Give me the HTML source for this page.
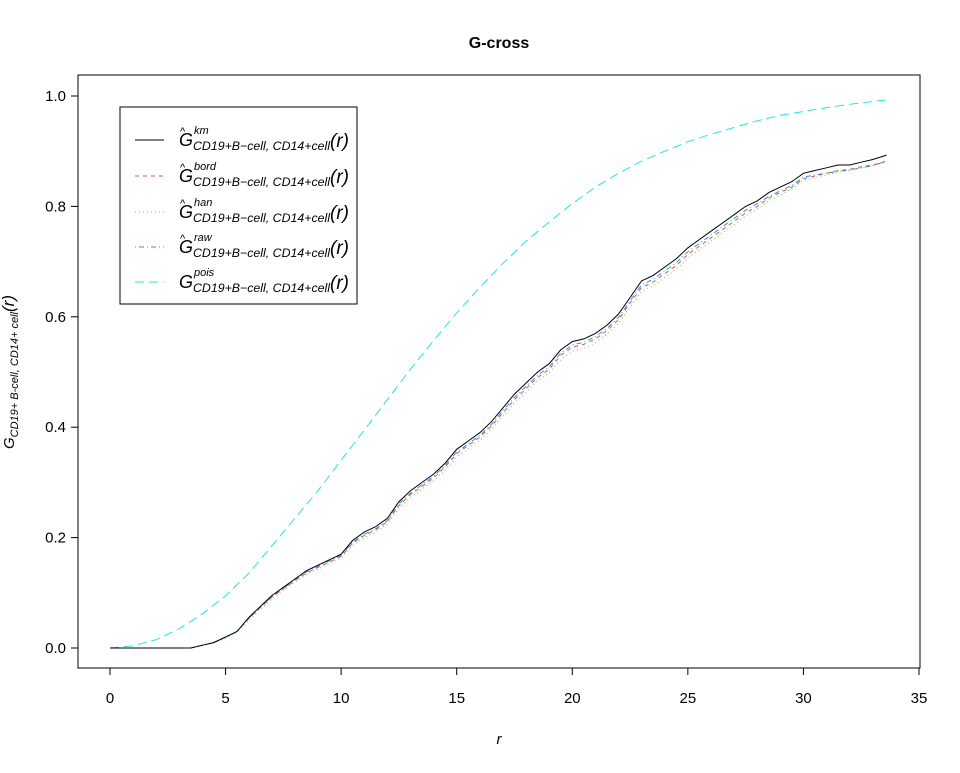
<!DOCTYPE html>
<html><head><meta charset="utf-8"><style>
body{margin:0;background:#fff;}
svg text{font-family:"Liberation Sans",Arial,sans-serif;}
</style></head><body>
<svg id="chart" width="960" height="768" xmlns="http://www.w3.org/2000/svg">
<rect width="960" height="768" fill="#fff"/>
<text x="499" y="48" text-anchor="middle" font-size="16" font-weight="bold">G-cross</text>
<rect x="78" y="75" width="842" height="593" fill="none" stroke="#000"/>
<g id="xaxis"></g>
<g id="yaxis"></g>
<g id="series"></g>
<text x="499" y="744" text-anchor="middle" font-size="15" font-style="italic">r</text>
<text transform="translate(14,372) rotate(-90)" text-anchor="middle" font-size="15"><tspan font-style="italic">G</tspan><tspan font-size="11" font-style="italic" dy="4">CD19+ B-cell, CD14+ cell</tspan><tspan dy="-4" font-style="italic" font-size="17">(r)</tspan></text>
<g>
<rect x="120" y="107" width="237" height="197" fill="#fff" stroke="#000"/>
<g id="legend-items"></g>
</g>
</svg>
<script>
const xTicks=[0,5,10,15,20,25,30,35];
const yTicks=[0,0.2,0.4,0.6,0.8,1.0];
const rKm=[0,3.5,4,4.5,5,5.5,6,6.5,7,7.5,8,8.5,9,9.5,10,10.5,11,11.5,12,12.5,13,13.5,14,14.5,15,15.5,16,16.5,17,17.5,18,18.5,19,19.5,20,20.5,21,21.5,22,22.5,23,23.5,24,24.5,25,25.5,26,26.5,27,27.5,28,28.5,29,29.5,30,30.5,31,31.5,32,32.5,33,33.6];
const gKm=[0,0,0.005,0.01,0.02,0.03,0.055,0.075,0.095,0.11,0.125,0.14,0.15,0.16,0.17,0.195,0.21,0.22,0.235,0.265,0.285,0.3,0.315,0.335,0.36,0.375,0.39,0.41,0.435,0.46,0.48,0.5,0.515,0.54,0.555,0.56,0.57,0.585,0.605,0.635,0.665,0.675,0.69,0.705,0.725,0.74,0.755,0.77,0.785,0.8,0.81,0.825,0.835,0.845,0.86,0.865,0.87,0.875,0.875,0.88,0.885,0.893];
const gBord=[0,0,0.005,0.01,0.02,0.03,0.053,0.073,0.092,0.107,0.122,0.136,0.146,0.156,0.166,0.19,0.204,0.214,0.229,0.258,0.278,0.293,0.308,0.328,0.352,0.367,0.382,0.402,0.426,0.45,0.47,0.49,0.505,0.53,0.545,0.55,0.56,0.575,0.595,0.625,0.653,0.663,0.678,0.693,0.713,0.728,0.743,0.758,0.773,0.788,0.8,0.815,0.825,0.835,0.85,0.855,0.86,0.865,0.867,0.872,0.875,0.882];
const gHan=[0,0,0.004,0.009,0.018,0.028,0.05,0.07,0.089,0.104,0.119,0.133,0.143,0.153,0.163,0.186,0.2,0.21,0.225,0.253,0.273,0.288,0.303,0.322,0.346,0.361,0.376,0.396,0.42,0.444,0.464,0.484,0.499,0.522,0.537,0.543,0.553,0.568,0.588,0.618,0.646,0.656,0.671,0.686,0.706,0.722,0.737,0.752,0.767,0.782,0.795,0.81,0.82,0.832,0.847,0.852,0.857,0.862,0.865,0.87,0.874,0.88];
const gRaw=[0,0,0.005,0.01,0.02,0.03,0.054,0.074,0.093,0.108,0.123,0.138,0.148,0.158,0.168,0.192,0.206,0.216,0.231,0.261,0.28,0.296,0.311,0.331,0.355,0.37,0.385,0.405,0.43,0.454,0.474,0.494,0.509,0.534,0.549,0.554,0.564,0.579,0.599,0.629,0.658,0.668,0.683,0.698,0.718,0.733,0.748,0.763,0.778,0.793,0.805,0.818,0.828,0.838,0.853,0.857,0.86,0.864,0.866,0.87,0.874,0.882];
const rPois=[0,1,2,3,4,5,6,7,8,9,10,11,12,13,14,15,16,17,18,19,20,21,22,23,24,25,26,27,28,29,30,31,32,33,33.6];
const gPois=[0,0.004,0.015,0.035,0.062,0.095,0.135,0.185,0.235,0.285,0.34,0.395,0.45,0.505,0.557,0.607,0.653,0.697,0.737,0.772,0.805,0.835,0.86,0.882,0.9,0.917,0.931,0.943,0.955,0.965,0.972,0.979,0.985,0.99,0.993];
const NS="http://www.w3.org/2000/svg";
const X=v=>110+v*(919-110)/35;
const Y=v=>648-v*552;
function mk(t,a,p){const e=document.createElementNS(NS,t);for(const k in a)e.setAttribute(k,a[k]);p.appendChild(e);return e;}
const xa=document.getElementById('xaxis');
mk('line',{x1:X(0),x2:X(35),y1:668,y2:668,stroke:'#000'},xa);
xTicks.forEach(t=>{
 const l=mk('line',{x1:X(t),x2:X(t),y1:668,y2:675,stroke:'#000'},xa);
 
 
 const tx=mk('text',{x:X(t),y:703,'text-anchor':'middle','font-size':15},xa);
 tx.textContent=t;
 
 
});
const ya=document.getElementById('yaxis');
mk('line',{x1:78,x2:78,y1:Y(0),y2:Y(1),stroke:'#000'},ya);
yTicks.forEach(t=>{
 const l=mk('line',{x1:71,x2:78,y1:Y(t),y2:Y(t),stroke:'#000'},ya);
 
 
 const tx=mk('text',{x:66,y:Y(t)+5,'text-anchor':'end','font-size':15},ya);
 tx.textContent=t.toFixed(1);
 
 
});
const sg=document.getElementById('series');
const specs=[
 {name:'pois',r:rPois,g:gPois,c:'#28E2E5',d:'9,5'},
 {name:'han',r:rKm,g:gHan,c:'#61D04F',d:'1,3'},
 {name:'raw',r:rKm,g:gRaw,c:'#2297E6',d:'1,3,5,3'},
 {name:'bord',r:rKm,g:gBord,c:'#DF536B',d:'4,4'},
 {name:'km',r:rKm,g:gKm,c:'#000',d:''}
];
specs.forEach(s=>{
 const pts=s.r.map((r,i)=>X(r).toFixed(1)+','+Y(s.g[i]).toFixed(1)).join(' ');
 const p=mk('polyline',{points:pts,fill:'none',stroke:s.c,'stroke-width':1,'stroke-dasharray':s.d},sg);
 
 
});
const li=document.getElementById('legend-items');
const leg=[['km','#000','',true],['bord','#DF536B','4,4',true],['han','#61D04F','1,3',true],['raw','#2297E6','1,3,5,3',true],['pois','#28E2E5','9,5',false]];
const ly=[140,176,212,247,282];
leg.forEach((e,i)=>{
 const y=ly[i];
 const l=mk('line',{x1:135,x2:164,y1:y,y2:y,stroke:e[1],'stroke-dasharray':e[2]},li);
 
 
 const g=mk('text',{x:179,y:y+6,'font-size':18,'font-style':'italic'},li);
 g.textContent='G';
 
 
 const sup=mk('text',{x:194,y:y-6,'font-size':11,'font-style':'italic'},li);
 sup.textContent=e[0];
 
 
 const sub=mk('text',{x:193,y:y+10,'font-size':12,'font-style':'italic',textLength:137,lengthAdjust:'spacingAndGlyphs'},li);
 sub.textContent='CD19+B\u2212cell, CD14+cell';
 
 
 const rr=mk('text',{x:330,y:y+7,'font-size':19,'font-style':'italic'},li);
 rr.textContent='(r)';
 if(e[3]){const h=mk('text',{x:180,y:y-5,'font-size':11},li);h.textContent='^';}
});
</script>
</body></html>
